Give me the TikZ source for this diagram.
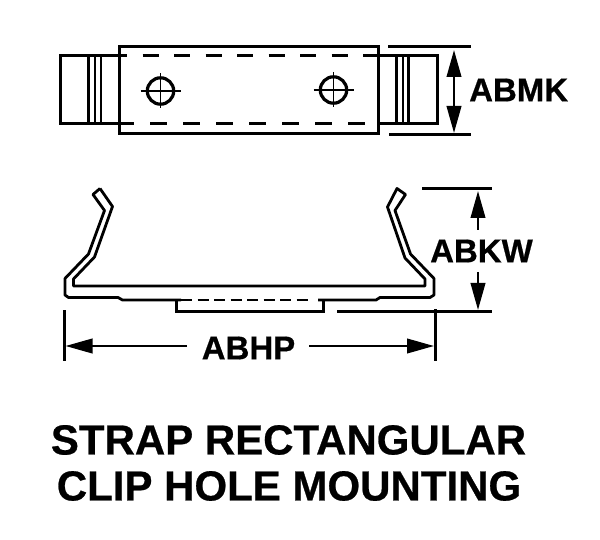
\documentclass[tikz,border=0pt]{standalone}
\usepackage{fontspec}
\setmainfont[BoldFeatures={FakeBold=0.6}]{Liberation Sans}
\usetikzlibrary{arrows.meta}
\tikzset{
  outline/.style={line width=3pt,line join=miter},
  clip line/.style={line width=2.8pt,line join=round},
  hidden top/.style={line width=3pt,dash pattern=on 16pt off 15.5pt,dash phase=10pt},
  hidden bottom/.style={line width=3pt,dash pattern=on 17pt off 16pt,dash phase=4pt},
  ext/.style={line width=3pt},
  dim/.style={line width=2.4pt,-{Triangle[length=27pt,width=14.5pt]}},
  label/.style={font=\bfseries\fontsize{33}{33}\selectfont,inner sep=0pt},
  title/.style={font=\bfseries\fontsize{42}{42}\selectfont,inner sep=0pt},
  holecirc/.style={line width=3.2pt},
  cross/.style={line width=1.8pt}
}
\begin{document}
\begin{tikzpicture}[x=1pt,y=-1pt]
\useasboundingbox (0,0) rectangle (600,540);
% top view
\draw[outline] (119,47) rectangle (378,134);
\draw[outline] (119,56) -- (60,56) -- (60,124) -- (119,124);
\draw[outline] (378,56) -- (437,56) -- (437,124) -- (378,124);
\foreach \x in {88.5,95,101}{\draw[line width=2.6pt] (\x,56) -- (\x,124);}
\foreach \x in {396.5,403,408.5}{\draw[line width=2.6pt] (\x,56) -- (\x,124);}
\draw[hidden top] (121,56) -- (377,56);
\draw[hidden bottom] (121,124) -- (377,124);
% holes
\foreach \cx/\cy in {160.5/91,333.5/90}{
  \draw[holecirc] (\cx,\cy) circle (13.2);
  \draw[cross] (\cx-20,\cy) -- (\cx+20,\cy);
  \draw[cross] (\cx,\cy-18) -- (\cx,\cy+17);
  \draw[line width=2.6pt] (\cx-13,\cy) -- (\cx,\cy);
}
% ABMK dimension
\draw[ext] (388,47) -- (471,47);
\draw[ext] (389,135) -- (471,135);
\coordinate (mk) at (454,91);
\coordinate (mkt) at (454,50);
\coordinate (mkb) at (454,133);
\draw[dim] (mk) -- (mkt);
\draw[dim] (mk) -- (mkb);
\node[label,anchor=west] (abmk) at (469,90) {ABMK};
% clip side view
\draw[clip line] (100,188.5) -- (93,194.5) -- (104.5,210.5) -- (88.5,254) -- (65,278.5) -- (65,295) -- (68.5,297.5) -- (118,297.5) -- (122.5,300) -- (181,300);
\draw[clip line] (100,188.5) -- (112.5,206.5) -- (94.5,257) -- (73.5,279) -- (73.5,286) -- (425,286) -- (425,279) -- (405,258) -- (387.5,207) -- (397,188.5) -- (405.5,194.5) -- (395,210.5) -- (410.5,254) -- (434,278.5) -- (434,295) -- (430,297.5) -- (380,297.5) -- (376,300) -- (318,300);
\draw[line width=2.8pt,dash pattern=on 11pt off 5.5pt] (181,300) -- (310,300);
\draw[ext] (176,300) -- (176,311.5) -- (323.5,311.5) -- (323.5,300);
% ABKW dimension
\draw[ext] (422,188.5) -- (492,188.5);
\draw[ext] (337,311.5) -- (492,311.5);
\coordinate (kwt) at (478,191);
\coordinate (kwts) at (478,230);
\coordinate (kwb) at (478,310);
\coordinate (kwbs) at (478,272);
\draw[dim] (kwts) -- (kwt);
\draw[dim] (kwbs) -- (kwb);
\node[label,anchor=center] (abkw) at (481.5,251) {ABKW};
% ABHP dimension
\draw[ext] (64,310) -- (64,360.5);
\draw[ext] (435,309) -- (435,360.5);
\coordinate (hpl) at (65.5,346);
\coordinate (hpls) at (187,346);
\coordinate (hpr) at (434,346);
\coordinate (hprs) at (309,346);
\draw[dim] (hpls) -- (hpl);
\draw[dim] (hprs) -- (hpr);
\node[label,anchor=center] (abhp) at (248.5,348) {ABHP};
% title
\node[title] (t1) at (288.5,440) {STRAP RECTANGULAR};
\node[title] (t2) at (289,486) {CLIP HOLE MOUNTING};
\end{tikzpicture}
\end{document}
